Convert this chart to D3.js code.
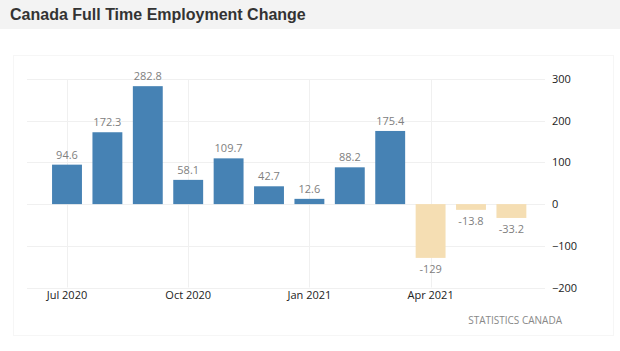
<!DOCTYPE html>
<html>
<head>
<meta charset="utf-8">
<script src="https://cdn.jsdelivr.net/npm/d3@7"></script>
<style>
  body { margin: 0; background: #fff; }
  text { font-family: "Open Sans", "DejaVu Sans", sans-serif; }
</style>
</head>
<body>
<div class="chart"></div>
<script>
// data
const months = ["Jul 2020","Aug 2020","Sep 2020","Oct 2020","Nov 2020","Dec 2020",
                "Jan 2021","Feb 2021","Mar 2021","Apr 2021","May 2021","Jun 2021"];
const changes = [94.6, 172.3, 282.8, 58.1, 109.7, 42.7, 12.6, 88.2, 175.4, -129, -13.8, -33.2];
const xTicks = ["Jul 2020","Oct 2020","Jan 2021","Apr 2021"];
const yTicks = [300, 200, 100, 0, -100, -200];

const W = 620, H = 351;
const svg = d3.select(".chart").append("svg")
  .attr("width", W)
  .attr("height", H);

// title bar
svg.append("rect").attr("x",0).attr("y",0).attr("width",W).attr("height",29).attr("fill","#f3f3f3");
svg.append("text")
  .attr("x",10).attr("y",20)
  .style("font-family","Arial, 'Liberation Sans', sans-serif")
  .attr("font-size",16).attr("font-weight","bold").attr("fill","#333")
  .text("Canada Full Time Employment Change");

// faint chart frame
svg.append("rect")
  .attr("x",13.5).attr("y",55.5).attr("width",600).attr("height",280)
  .attr("fill","none").attr("stroke","#f6f6f6");

const xScale = d3.scaleBand()
  .domain(months)
  .range([46.8, 46.8 + 12*40.4])
  .paddingInner(0.26)
  .paddingOuter(0.13);

const yScale = d3.scaleLinear()
  .domain([-200, 300])
  .range([287.5, 79]);

const g = svg.append("g");

// horizontal grid
g.selectAll("line.hgrid")
  .data(yTicks)
  .enter().append("line")
  .attr("x1",27).attr("x2",545)
  .attr("y1",d=>Math.round(yScale(d))+0.5)
  .attr("y2",d=>Math.round(yScale(d))+0.5)
  .attr("stroke","#f0f0f0");

// vertical grid
g.selectAll("line.vgrid")
  .data(xTicks)
  .enter().append("line")
  .attr("x1",d=>Math.round(xScale(d)+xScale.bandwidth()/2)+0.5)
  .attr("x2",d=>Math.round(xScale(d)+xScale.bandwidth()/2)+0.5)
  .attr("y1",yScale(300))
  .attr("y2",yScale(-200))
  .attr("stroke","#f0f0f0");

// bars
g.selectAll("rect.bar")
  .data(changes)
  .enter().append("rect")
  .attr("x",(d,i)=>xScale(months[i]))
  .attr("width",xScale.bandwidth())
  .attr("y",d=>yScale(Math.max(0,d)))
  .attr("height",d=>Math.abs(yScale(d)-yScale(0)))
  .attr("fill",d=>d>=0 ? "#4682b4" : "#f5deb3");

// value labels
g.selectAll("text.val")
  .data(changes)
  .enter().append("text")
  .attr("x",(d,i)=>xScale(months[i])+xScale.bandwidth()/2)
  .attr("y",d=>d>=0 ? yScale(d)-6 : yScale(d)+15)
  .attr("text-anchor","middle")
  .attr("font-size",11).attr("fill","#808080")
  .text(d=>d);

// x axis labels
const xAxis = d3.axisBottom(xScale).tickValues(xTicks).tickSize(0).tickPadding(0);
g.append("g")
  .attr("transform","translate(0,291)")
  .call(xAxis)
  .call(s=>s.select(".domain").remove())
  .call(s=>s.selectAll("text").attr("font-size",11).attr("fill","#222")
    .style("font-family","'Open Sans', 'DejaVu Sans', sans-serif"));

// y axis labels
const yAxis = d3.axisRight(yScale).tickValues(yTicks).tickSize(0).tickPadding(0);
g.append("g")
  .attr("transform","translate(552,0)")
  .call(yAxis)
  .call(s=>s.select(".domain").remove())
  .call(s=>s.selectAll("text").attr("font-size",11).attr("fill","#222")
    .style("font-family","'Open Sans', 'DejaVu Sans', sans-serif"));

// source
svg.append("text")
  .attr("x",562).attr("y",324)
  .attr("text-anchor","end")
  .attr("font-size",10).attr("fill","#888")
  .text("STATISTICS CANADA");
</script>
</body>
</html>
